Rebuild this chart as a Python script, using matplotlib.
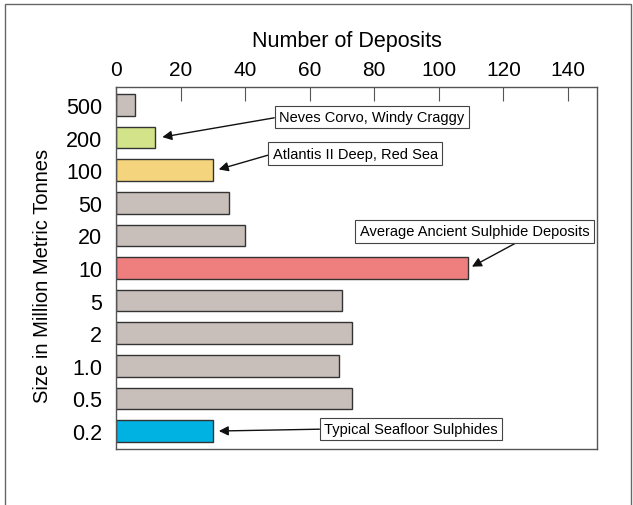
import matplotlib
matplotlib.use("Agg")
import matplotlib.pyplot as plt
from matplotlib.patches import Rectangle

plt.rcParams['font.family'] = ['Liberation Sans', 'DejaVu Sans']

sizes = ["500", "200", "100", "50", "20", "10", "5", "2", "1.0", "0.5", "0.2"]
counts = [6, 12, 30, 35, 40, 109, 70, 73, 69, 73, 30]
colors = ["#c8bfba", "#d3e38a", "#f4d47c", "#c8bfba", "#c8bfba", "#ef7f7f",
          "#c8bfba", "#c8bfba", "#c8bfba", "#c8bfba", "#00b2e2"]
xticks = [0, 20, 40, 60, 80, 100, 120, 140]

notes = [
    ("Neves Corvo, Windy Craggy", 1, 13.5, 50.5, 0.37, (0, 0.5)),
    ("Atlantis II Deep, Red Sea", 2, 31, 48.5, 1.5, (0, 0.5)),
    ("Average Ancient Sulphide Deposits", 5, 109.5, 111, 3.87, (0.72, 0.0)),
    ("Typical Seafloor Sulphides", 10, 31, 64.5, 9.94, (0, 0.5)),
]

fig = plt.figure(figsize=(6.33, 5.06), dpi=100)
ax = fig.add_axes([116/633, 1-450/506, (597-116)/633, (450-88)/506])

ypos = list(range(len(sizes)))
ax.barh(ypos, counts, height=0.66, color=colors, edgecolor="#333333", linewidth=1.0)
ax.set_ylim(len(sizes)-0.45, -0.55)
ax.set_xlim(0, 149)
ax.set_xticks(xticks)
ax.xaxis.tick_top()
ax.tick_params(axis='x', direction='in', length=10, width=0.8, color="#555555",
               labelsize=15, pad=6)
ax.set_yticks(ypos)
ax.set_yticklabels(sizes)
ax.tick_params(axis='y', length=0, labelsize=15.5, pad=10)
for s in ax.spines.values():
    s.set_color("#555555")
    s.set_linewidth(1.0)

for text, row, tipx, tx, ty, rp in notes:
    ha = 'center' if rp[1] == 0.0 else 'left'
    ax.annotate(text, xy=(tipx, row), xytext=(tx, ty), fontsize=10.5,
                ha=ha, va='center',
                bbox=dict(boxstyle='square,pad=0.3', fc='white', ec='#444444', lw=0.8),
                arrowprops=dict(arrowstyle='-|>', color='#111111', lw=1.0,
                                mutation_scale=14, relpos=rp, shrinkA=0, shrinkB=2))

fig.text(347/633, 1-42/506, "Number of Deposits", ha='center', va='center', fontsize=15.5)
fig.text(43/633, 1-276/506, "Size in Million Metric Tonnes", ha='center', va='center',
         rotation=90, fontsize=14.5)

fig.patches.append(Rectangle((5/633, -0.1), 626/633, 1.1-5/506, transform=fig.transFigure,
                             fill=False, ec="#666666", lw=1.0))

fig.savefig("out.png", dpi=100)
